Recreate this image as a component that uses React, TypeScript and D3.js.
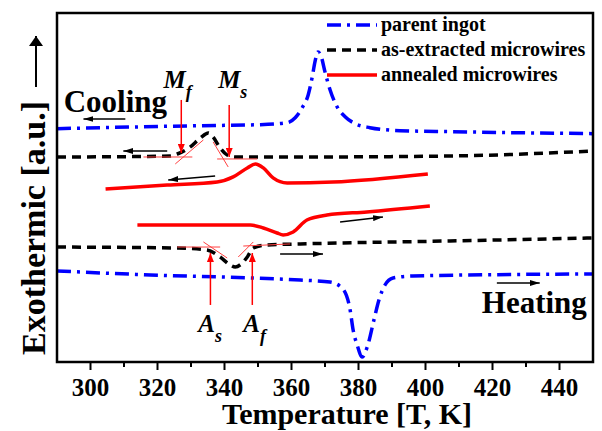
import React, { useEffect, useRef } from "react";
import * as d3 from "d3";

type Pt = [number, number];

// temperature (K) vs heat flow signal (a.u.)
const parentCooling: Pt[] = [
  [290, 23.4], [303, 23.5], [332.8, 23.7], [350.7, 23.8], [358.7, 24.0], [361.1, 24.5],
  [363.2, 25.5], [365.0, 26.8], [366.2, 28.6], [367.0, 30.1], [367.9, 31.1], [368.8, 30.7],
  [370.0, 29.1], [371.5, 27.3], [373.6, 25.6], [376.0, 24.6], [379.0, 23.9], [383.4, 23.5],
  [392.4, 23.2], [407.3, 23.1], [450, 22.9],
];
const parentHeating: Pt[] = [
  [290, 9.13], [317.9, 8.73], [347.7, 8.43], [362.6, 8.22], [371.5, 8.02], [375.1, 7.42],
  [377.5, 5.22], [378.4, 3.21], [379.6, 1.71], [381.1, 0.5], [382.6, 1.5], [384.6, 4.21],
  [386.1, 6.22], [387.9, 7.72], [390.3, 8.43], [396.2, 8.63], [450, 8.83],
];
const extractedCooling: Pt[] = [
  [290, 20.56], [314.9, 20.61], [323.8, 20.66], [325.9, 20.86], [329.8, 21.57], [332.8, 22.47],
  [335.2, 22.97], [336.6, 22.57], [338.7, 21.46], [340.8, 20.76], [343.2, 20.56], [362.6, 20.56],
  [407.3, 20.66], [450, 21.16],
];
const extractedHeating: Pt[] = [
  [290, 11.53], [325.9, 11.43], [334.8, 11.23], [338.7, 10.53], [341.7, 9.73], [343.2, 9.53],
  [345.0, 9.83], [346.8, 10.53], [348.6, 11.43], [352.7, 11.74], [362.6, 11.84], [407.3, 12.14],
  [450, 12.44],
];
const annealedCooling: Pt[] = [
  [304.5, 17.35], [322.9, 17.75], [337.8, 18.05], [342.6, 18.56], [346.8, 19.46], [349.2, 19.86],
  [351.6, 19.46], [354.5, 18.46], [358.7, 17.95], [372.4, 18.05], [400.7, 18.86],
];
const annealedHeating: Pt[] = [
  [314.0, 13.74], [332.8, 13.74], [347.7, 13.74], [351.6, 13.44], [355.7, 12.94], [357.5, 12.74],
  [360.5, 13.04], [364.6, 14.24], [370.6, 14.74], [382.5, 15.05], [401.3, 15.65],
];

const xTicks = [300, 320, 340, 360, 380, 400, 420, 440];
const xMinorTicks = [310, 330, 350, 370, 390, 410, 430];

// scan direction arrows [from, to]
const blackArrows: [Pt, Pt][] = [
  [[310.4, 24.37], [297.9, 24.37]],
  [[322.9, 21.16], [309.8, 21.16]],
  [[337.2, 18.66], [323.2, 18.26]],
  [[374.5, 14.04], [387.3, 14.54]],
  [[356.6, 10.83], [369.4, 10.83]],
  [[421.3, 7.92], [434.1, 7.92]],
];
// transformation temperature markers
const redArrows: [Pt, Pt][] = [
  [[327.1, 26.28], [327.1, 20.96]],
  [[341.4, 25.78], [341.4, 20.56]],
  [[335.8, 5.72], [335.8, 10.93]],
  [[348.3, 5.72], [348.3, 10.93]],
];
const tangents: [Pt, Pt][] = [
  [[315.8, 20.56], [330.4, 20.56]],
  [[325.3, 19.86], [333.7, 22.27]],
  [[337.8, 20.36], [349.8, 20.36]],
  [[336.6, 22.07], [341.1, 19.56]],
  [[325.9, 11.53], [338.7, 11.53]],
  [[333.7, 12.04], [340.8, 10.43]],
  [[345.6, 11.63], [359.6, 11.84]],
  [[344.1, 10.53], [348.6, 12.04]],
];
const tempLabels = [
  { main: "M", sub: "f", at: [321.8, 27.5] as Pt },
  { main: "M", sub: "s", at: [338.1, 27.5] as Pt },
  { main: "A", sub: "s", at: [332.2, 3.0] as Pt },
  { main: "A", sub: "f", at: [345.6, 3.0] as Pt },
];

const legendItems = [
  { name: "parent ingot", color: "#0000ff", dash: "14,6,3,6" },
  { name: "as-extracted microwires", color: "#000000", dash: "9,6" },
  { name: "annealed microwires", color: "#ff0000", dash: null },
];

const FONT = "'Liberation Serif', 'Times New Roman', serif";

const App = () => {
  const ref = useRef<SVGSVGElement>(null);

  useEffect(() => {
    const svg = d3.select(ref.current);
    svg.selectAll("*").remove();
    const left = 57, right = 593, top = 13, bottom = 362;
    const x = d3.scaleLinear().domain([290, 450]).range([left, right]);
    const y = d3.scaleLinear().domain([0, 35]).range([bottom, top]);

    const defs = svg.append("defs");
    const mk = (id: string, color: string, w: number, h: number) =>
      defs
        .append("marker")
        .attr("id", id)
        .attr("markerUnits", "userSpaceOnUse")
        .attr("markerWidth", w)
        .attr("markerHeight", h)
        .attr("refX", w)
        .attr("refY", h / 2)
        .attr("orient", "auto")
        .append("path")
        .attr("d", `M0,0L${w},${h / 2}L0,${h}Z`)
        .attr("fill", color);
    mk("ahBlack", "#000", 10, 6);
    mk("ahRed", "#ff0000", 9, 7);
    mk("ahAxis", "#000", 10, 14);

    const line = d3
      .line<Pt>()
      .x((d) => x(d[0]))
      .y((d) => y(d[1]))
      .curve(d3.curveMonotoneX);

    const series = [
      { data: parentCooling, color: "#0000ff", dash: "14,6,3,6" },
      { data: parentHeating, color: "#0000ff", dash: "14,6,3,6" },
      { data: extractedCooling, color: "#000", dash: "9,6" },
      { data: extractedHeating, color: "#000", dash: "9,6" },
      { data: annealedCooling, color: "#ff0000", dash: null },
      { data: annealedHeating, color: "#ff0000", dash: null },
    ];
    series.forEach((s) => {
      svg
        .append("path")
        .attr("d", line(s.data))
        .attr("fill", "none")
        .attr("stroke", s.color)
        .attr("stroke-width", 3.5)
        .attr("stroke-dasharray", s.dash);
    });

    // thin tangent construction lines
    tangents.forEach(([a, b]) => {
      svg
        .append("line")
        .attr("x1", x(a[0])).attr("y1", y(a[1]))
        .attr("x2", x(b[0])).attr("y2", y(b[1]))
        .attr("stroke", "#ff4040")
        .attr("stroke-width", 1);
    });
    redArrows.forEach(([a, b]) => {
      svg
        .append("line")
        .attr("x1", x(a[0])).attr("y1", y(a[1]))
        .attr("x2", x(b[0])).attr("y2", y(b[1]))
        .attr("stroke", "#ff0000")
        .attr("stroke-width", 1.5)
        .attr("marker-end", "url(#ahRed)");
    });
    blackArrows.forEach(([a, b]) => {
      svg
        .append("line")
        .attr("x1", x(a[0])).attr("y1", y(a[1]))
        .attr("x2", x(b[0])).attr("y2", y(b[1]))
        .attr("stroke", "#000")
        .attr("stroke-width", 1.5)
        .attr("marker-end", "url(#ahBlack)");
    });

    tempLabels.forEach((l) => {
      const t = svg
        .append("text")
        .attr("x", x(l.at[0]))
        .attr("y", y(l.at[1]))
        .attr("font-family", FONT)
        .attr("font-style", "italic")
        .attr("font-weight", "bold")
        .attr("font-size", 25);
      t.append("tspan").text(l.main);
      t.append("tspan").attr("dy", 10).attr("font-size", 18).text(l.sub);
    });

    svg
      .append("text")
      .attr("x", x(292))
      .attr("y", y(25.08))
      .attr("font-family", FONT)
      .attr("font-weight", "bold")
      .attr("font-size", 31)
      .text("Cooling");
    svg
      .append("text")
      .attr("x", x(416.8))
      .attr("y", y(4.9))
      .attr("font-family", FONT)
      .attr("font-weight", "bold")
      .attr("font-size", 31)
      .text("Heating");

    // frame
    svg
      .append("rect")
      .attr("x", left)
      .attr("y", top)
      .attr("width", right - left)
      .attr("height", bottom - top)
      .attr("fill", "none")
      .attr("stroke", "#000")
      .attr("stroke-width", 2.5);

    // x axis ticks
    const ax = svg.append("g").attr("transform", `translate(0,${bottom})`);
    ax.selectAll(".major")
      .data(xTicks)
      .enter()
      .append("line")
      .attr("x1", (d) => x(d))
      .attr("x2", (d) => x(d))
      .attr("y1", 0)
      .attr("y2", 8)
      .attr("stroke", "#000")
      .attr("stroke-width", 2);
    ax.selectAll(".minor")
      .data(xMinorTicks)
      .enter()
      .append("line")
      .attr("x1", (d) => x(d))
      .attr("x2", (d) => x(d))
      .attr("y1", 0)
      .attr("y2", 5)
      .attr("stroke", "#000")
      .attr("stroke-width", 2);
    ax.selectAll(".lbl")
      .data(xTicks)
      .enter()
      .append("text")
      .attr("x", (d) => x(d))
      .attr("y", 34)
      .attr("text-anchor", "middle")
      .attr("font-family", FONT)
      .attr("font-weight", "bold")
      .attr("font-size", 25)
      .text((d) => d);

    svg
      .append("text")
      .attr("x", 347)
      .attr("y", 424)
      .attr("text-anchor", "middle")
      .attr("font-family", FONT)
      .attr("font-weight", "bold")
      .attr("font-size", 30)
      .text("Temperature [T, K]");

    svg
      .append("text")
      .attr("transform", "translate(45,228) rotate(-90)")
      .attr("text-anchor", "middle")
      .attr("font-family", FONT)
      .attr("font-weight", "bold")
      .attr("font-size", 34)
      .text("Exothermic [a.u.]");
    svg
      .append("line")
      .attr("x1", 36)
      .attr("y1", 87)
      .attr("x2", 36)
      .attr("y2", 36)
      .attr("stroke", "#000")
      .attr("stroke-width", 2)
      .attr("marker-end", "url(#ahAxis)");

    // legend
    const lg = svg.append("g");
    legendItems.forEach((it, i) => {
      const ly = 25 + i * 25;
      lg.append("line")
        .attr("x1", 327)
        .attr("x2", 377)
        .attr("y1", ly)
        .attr("y2", ly)
        .attr("stroke", it.color)
        .attr("stroke-width", 3.5)
        .attr("stroke-dasharray", it.dash);
      lg.append("text")
        .attr("x", 381)
        .attr("y", ly + 6)
        .attr("font-family", FONT)
        .attr("font-weight", "bold")
        .attr("font-size", 20)
        .text(it.name);
    });
  }, []);

  return (
    <svg
      ref={ref}
      width={602}
      height={431}
      style={{ position: "absolute", left: 0, top: 0, background: "#fff" }}
    />
  );
};

export default App;
